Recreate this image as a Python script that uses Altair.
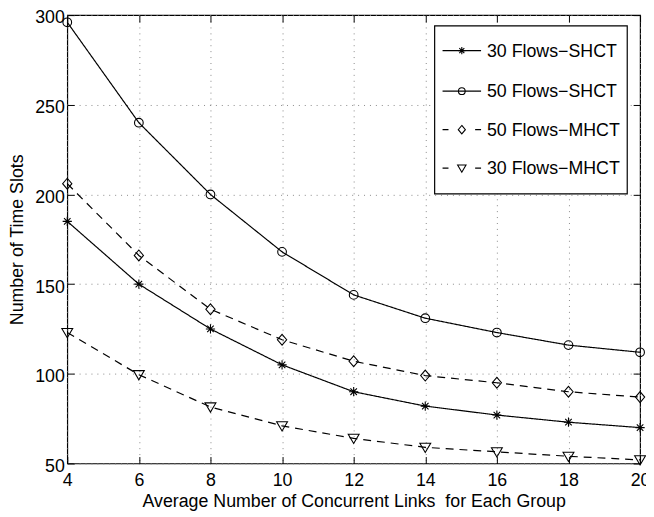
import altair as alt
import pandas as pd

# ---------------- data ----------------
x_vals = [4, 6, 8, 10, 12, 14, 16, 18, 20]
series_names = ["30 Flows\u2212SHCT", "50 Flows\u2212SHCT", "50 Flows\u2212MHCT", "30 Flows\u2212MHCT"]
flows30_shct = [185, 150, 125, 105, 90, 82, 77, 73, 70]
flows50_shct = [296, 240, 200, 168, 144, 131, 123, 116, 112]
flows50_mhct = [206, 166, 136, 119, 107, 99, 95, 90, 87]
flows30_mhct = [123, 99.5, 81.5, 71, 64, 59, 56.5, 54, 52]
x_ticks = [4, 6, 8, 10, 12, 14, 16, 18, 20]
y_ticks = [50, 100, 150, 200, 250, 300]

series_values = [flows30_shct, flows50_shct, flows50_mhct, flows30_mhct]
rows = []
for name, vals in zip(series_names, series_values):
    for xv, yv in zip(x_vals, vals):
        rows.append({"x": xv, "y": yv, "series": name})
df = pd.DataFrame(rows)

# ---------------- styles ----------------
FONT = "Liberation Sans"
W, H = 580, 454

star = "M-0.85,0L0.85,0M0,-0.85L0,0.85M-0.6,-0.6L0.6,0.6M-0.6,0.6L0.6,-0.6"
circ = "M-0.8,0A0.8,0.8,0,1,1,0.8,0A0.8,0.8,0,1,1,-0.8,0Z"
diam = "M0,-1L0.85,0L0,1L-0.85,0Z"
tri = "M-1,-0.75L1,-0.75L0,0.95Z"

shape_scale = alt.Scale(domain=series_names, range=[star, circ, diam, tri])
dash_scale = alt.Scale(domain=series_names, range=[[1, 0], [1, 0], [8, 6], [8, 6]])
xscale = alt.Scale(domain=[4, 20], nice=False, zero=False)
yscale = alt.Scale(domain=[50, 300], nice=False, zero=False)

axis_bottom = alt.Axis(orient="bottom", values=x_ticks,
                       title="Average Number of Concurrent Links\u00a0 for Each Group",
                       offset=-7, tickSize=7, labelPadding=8, titlePadding=4, domain=False,
                       grid=True, gridColor="#888888", gridDash=[1, 5], gridWidth=1,
                       labelFlush=False, labelOverlap=False, labelBound=False)
axis_left = alt.Axis(orient="left", values=y_ticks, title="Number of Time Slots",
                     offset=-7, tickSize=7, labelPadding=3, titlePadding=8, domain=False,
                     grid=True, gridColor="#888888", gridDash=[1, 5], gridWidth=1,
                     labelOffset=3, labelFlush=False, labelOverlap=False)
axis_top = alt.Axis(orient="top", values=x_ticks, title=None, labels=False, offset=-7, tickSize=7,
                    domain=False, grid=False)
axis_right = alt.Axis(orient="right", values=y_ticks, title=None, labels=False, offset=-7, tickSize=7,
                      domain=False, grid=False)

lines = alt.Chart(df).mark_line(color="black", strokeWidth=1.2).encode(
    x=alt.X("x:Q", scale=xscale, axis=axis_bottom),
    y=alt.Y("y:Q", scale=yscale, axis=axis_left),
    strokeDash=alt.StrokeDash("series:N", scale=dash_scale, legend=None),
)

points = alt.Chart(df).mark_point(filled=False, color="black", strokeWidth=1.1, size=121, opacity=1).encode(
    x=alt.X("x:Q", scale=xscale, axis=axis_top),
    y=alt.Y("y:Q", scale=yscale, axis=axis_right),
    shape=alt.Shape("series:N", scale=shape_scale, legend=None),
)

# ---------------- legend (drawn by hand, MATLAB style) ----------------
leg_box = alt.Chart(pd.DataFrame({"k": [0]})).mark_rect(fill="white", stroke="black", strokeWidth=1.2).encode(
    x=alt.value(372), x2=alt.value(567), y=alt.value(11), y2=alt.value(181)
)
legend_layers = [leg_box]
row_y = [36, 77, 116, 155]
for i, name in enumerate(series_names):
    ldf = pd.DataFrame({"series": [name]})
    dash = [1, 0] if i < 2 else [6, 27]
    legend_layers.append(
        alt.Chart(ldf).mark_rule(color="black", strokeWidth=1.2, strokeDash=dash).encode(
            x=alt.value(380), x2=alt.value(419), y=alt.value(row_y[i])
        )
    )
    legend_layers.append(
        alt.Chart(ldf).mark_point(filled=False, color="black", strokeWidth=1.1, size=72, opacity=1).encode(
            x=alt.value(399.5), y=alt.value(row_y[i]),
            shape=alt.Shape("series:N", scale=shape_scale, legend=None),
        )
    )
    legend_layers.append(
        alt.Chart(ldf).mark_text(align="left", baseline="middle", font=FONT, fontSize=18, color="black").encode(
            x=alt.value(425), y=alt.value(row_y[i] + 1), text="series:N"
        )
    )

chart = alt.layer(lines, points, *legend_layers).resolve_axis(
    x="independent", y="independent"
).properties(
    width=W, height=H,
    autosize=alt.AutoSizeParams(type="none"),
    padding={"left": 60, "top": 4, "right": 6, "bottom": 51},
    background="white",
).configure_view(
    stroke="black", strokeWidth=1.2
).configure_axis(
    labelFont=FONT, titleFont=FONT, labelFontSize=18, titleFontSize=18,
    titleFontWeight="normal", labelColor="black", titleColor="black",
    tickColor="black", tickWidth=1,
)

chart.save("out.html", embed_options={"renderer": "svg", "actions": False})
